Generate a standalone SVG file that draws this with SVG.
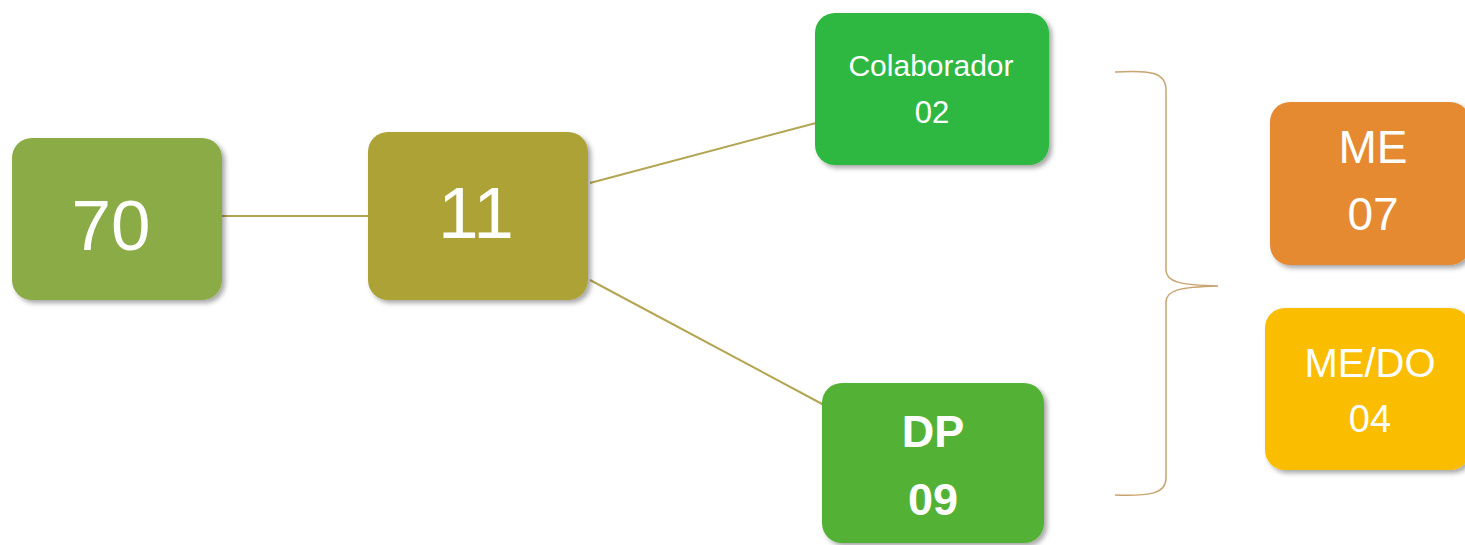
<svg xmlns="http://www.w3.org/2000/svg" width="1465" height="545" viewBox="0 0 1465 545">
<style>
.t{font-family:"Liberation Sans",Arial,sans-serif;fill:#fff;text-anchor:middle}
.b{font-weight:bold}
.c{fill:none;stroke:#b3a552;stroke-width:2}
</style>
<defs>
<filter id="sh" x="-10%" y="-10%" width="125%" height="125%">
<feDropShadow dx="3" dy="3" stdDeviation="2.5" flood-color="#000" flood-opacity="0.35"/>
</filter>
</defs>
<rect width="1465" height="545" fill="#fff"/>
<g id="connectors">
<line class="c" x1="222" y1="216" x2="368" y2="216"/>
<line class="c" x1="590" y1="183" x2="816" y2="123"/>
<line class="c" x1="590" y1="280" x2="824" y2="405"/>
<path d="M1115,72 C1150,70 1166,72 1166,90 L1166,270 C1166,282 1180,285 1218,286 C1180,287 1166,290 1166,302 L1166,478 C1166,494 1150,496 1115,495" fill="none" stroke="#c9a46e" stroke-width="1.5"/>
</g>
<g id="n70">
<rect x="12" y="138" width="210" height="162" rx="20" fill="#8aab45" filter="url(#sh)"/>
<text class="t" x="111" y="250" font-size="71">70</text>
</g>
<g id="n11">
<rect x="368" y="132" width="220" height="168" rx="20" fill="#ada236" filter="url(#sh)"/>
<text class="t" x="476" y="238" font-size="73">11</text>
</g>
<g id="colab">
<rect x="815" y="13" width="234" height="152" rx="20" fill="#2db843" filter="url(#sh)"/>
<text class="t" x="931" y="76" font-size="30">Colaborador</text>
<text class="t" x="932" y="123" font-size="31">02</text>
</g>
<g id="dp">
<rect x="822" y="383" width="222" height="160" rx="20" fill="#52b234" filter="url(#sh)"/>
<text class="t b" x="933" y="447" font-size="45">DP</text>
<text class="t b" x="933" y="515" font-size="45">09</text>
</g>
<g id="me">
<rect x="1270" y="102" width="200" height="163" rx="20" fill="#e68a33" filter="url(#sh)"/>
<text class="t" x="1373" y="163" font-size="46">ME</text>
<text class="t" x="1373" y="230" font-size="46">07</text>
</g>
<g id="medo">
<rect x="1265" y="308" width="205" height="162" rx="20" fill="#fbbd06" filter="url(#sh)"/>
<text class="t" x="1370" y="377" font-size="40">ME/DO</text>
<text class="t" x="1370" y="432" font-size="38">04</text>
</g>
</svg>
